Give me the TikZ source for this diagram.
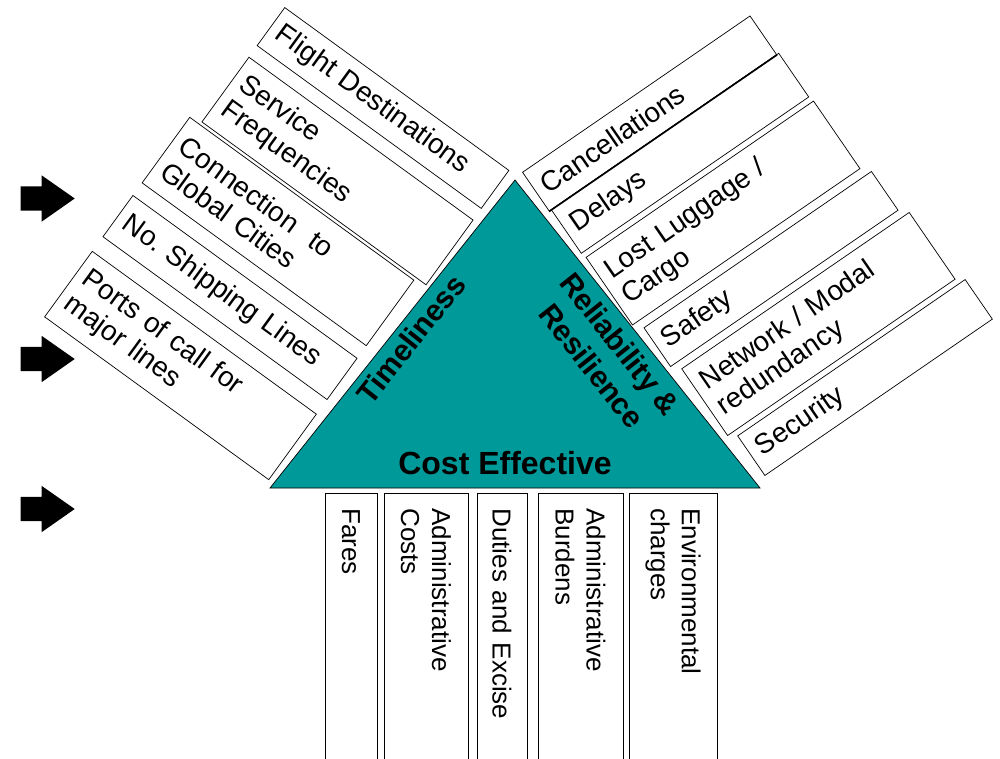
\documentclass[tikz,border=0pt]{standalone}
\usepackage{fontspec}
\setmainfont{Liberation Sans}
\usepackage{xcolor}
\usetikzlibrary{shapes.arrows}
\definecolor{pillarteal}{RGB}{0,153,153}
\frenchspacing
\tikzset{
    item box/.style={
        draw,
        line width=0.7pt,
        align=left,
        inner xsep=9pt,
        inner ysep=0pt,
        font=\fontsize{28}{31}\selectfont
    },
    left item/.style={
        item box,
        rotate=-36,
        minimum width=277pt,
        text width=259pt
    },
    right item/.style={
        item box,
        rotate=34.5,
        minimum width=276pt,
        text width=258pt
    },
    cost item/.style={
        item box,
        rotate=-90,
        anchor=west,
        inner xsep=15pt,
        minimum width=290pt,
        text width=260pt,
        font=\fontsize{26}{31}\selectfont
    },
    side label/.style={
        font=\fontsize{30}{36}\selectfont\bfseries,
        align=center
    },
    push arrow/.style={
        single arrow,
        fill=black,
        minimum height=54pt,
        inner xsep=0pt,
        inner ysep=12pt,
        single arrow head extend=11pt,
        single arrow head indent=0pt,
        single arrow tip angle=70
    }
}
\begin{document}
\begin{tikzpicture}[x=1pt,y=-1pt]
\useasboundingbox (0,0) rectangle (1000,759);
\clip (0,0) rectangle (1000,759);
% the pillar triangle
\coordinate (top) at (515,180);
\coordinate (baseL) at (270,488);
\coordinate (baseR) at (760,488);
\filldraw[fill=pillarteal, draw=black, line width=0.7pt] (top) -- (baseR) -- (baseL) -- cycle;
\node[side label, rotate=51.5] (time) at (411,339) {Timeliness};
\node[side label, rotate=-51.5] (rel) at (606,355) {Reliability \&\\Resilience};
\node[side label, font=\fontsize{32}{36}\selectfont\bfseries] (cost) at (505,463) {Cost Effective};
% timeliness items
\foreach \n/\x/\y/\w/\t in {flight/383/108/47/{Flight Destinations},
    service/337.5/171/80/{Service\\Frequencies},
    connect/278/231.5/81/{Connection\ \ to\\Global Cities},
    shipping/230/297.5/51/{No. Shipping Lines},
    ports/180.5/365.5/81/{Ports of call for\\major lines}}
    \node[left item, minimum height=\w] (\n) at (\x,\y) {\t};
% reliability items
\foreach \n/\x/\y/\w/\t in {canc/649.6/113.5/47/{Cancellations},
    delays/680/153.3/53/{Delays},
    lost/723/213/82/{Lost Luggage /\\Cargo},
    safety/771/269/47/{Safety},
    network/818.4/324/81/{Network / Modal\\redundancy},
    security/865/377.5/48/{Security}}
    \node[right item, minimum height=\w] (\n) at (\x,\y) {\t};
\draw[line width=1.6pt] (canc.south west) -- (canc.south east);
% cost items
\foreach \n/\x/\w/\t in {fares/351/52/{Fares},
    admincost/426/84/{Administrative\\Costs},
    duties/502/50/{Duties and Excise},
    burdens/580.5/85/{Administrative\\Burdens},
    env/673/88/{Environmental\\charges}}
    \node[cost item, minimum height=\w] (\n) at (\x,493) {\t};
% arrows
\foreach \n/\y in {arrowA/198.5, arrowB/359, arrowC/509}
    \node[push arrow] (\n) at (39,\y) {};
\end{tikzpicture}
\end{document}
